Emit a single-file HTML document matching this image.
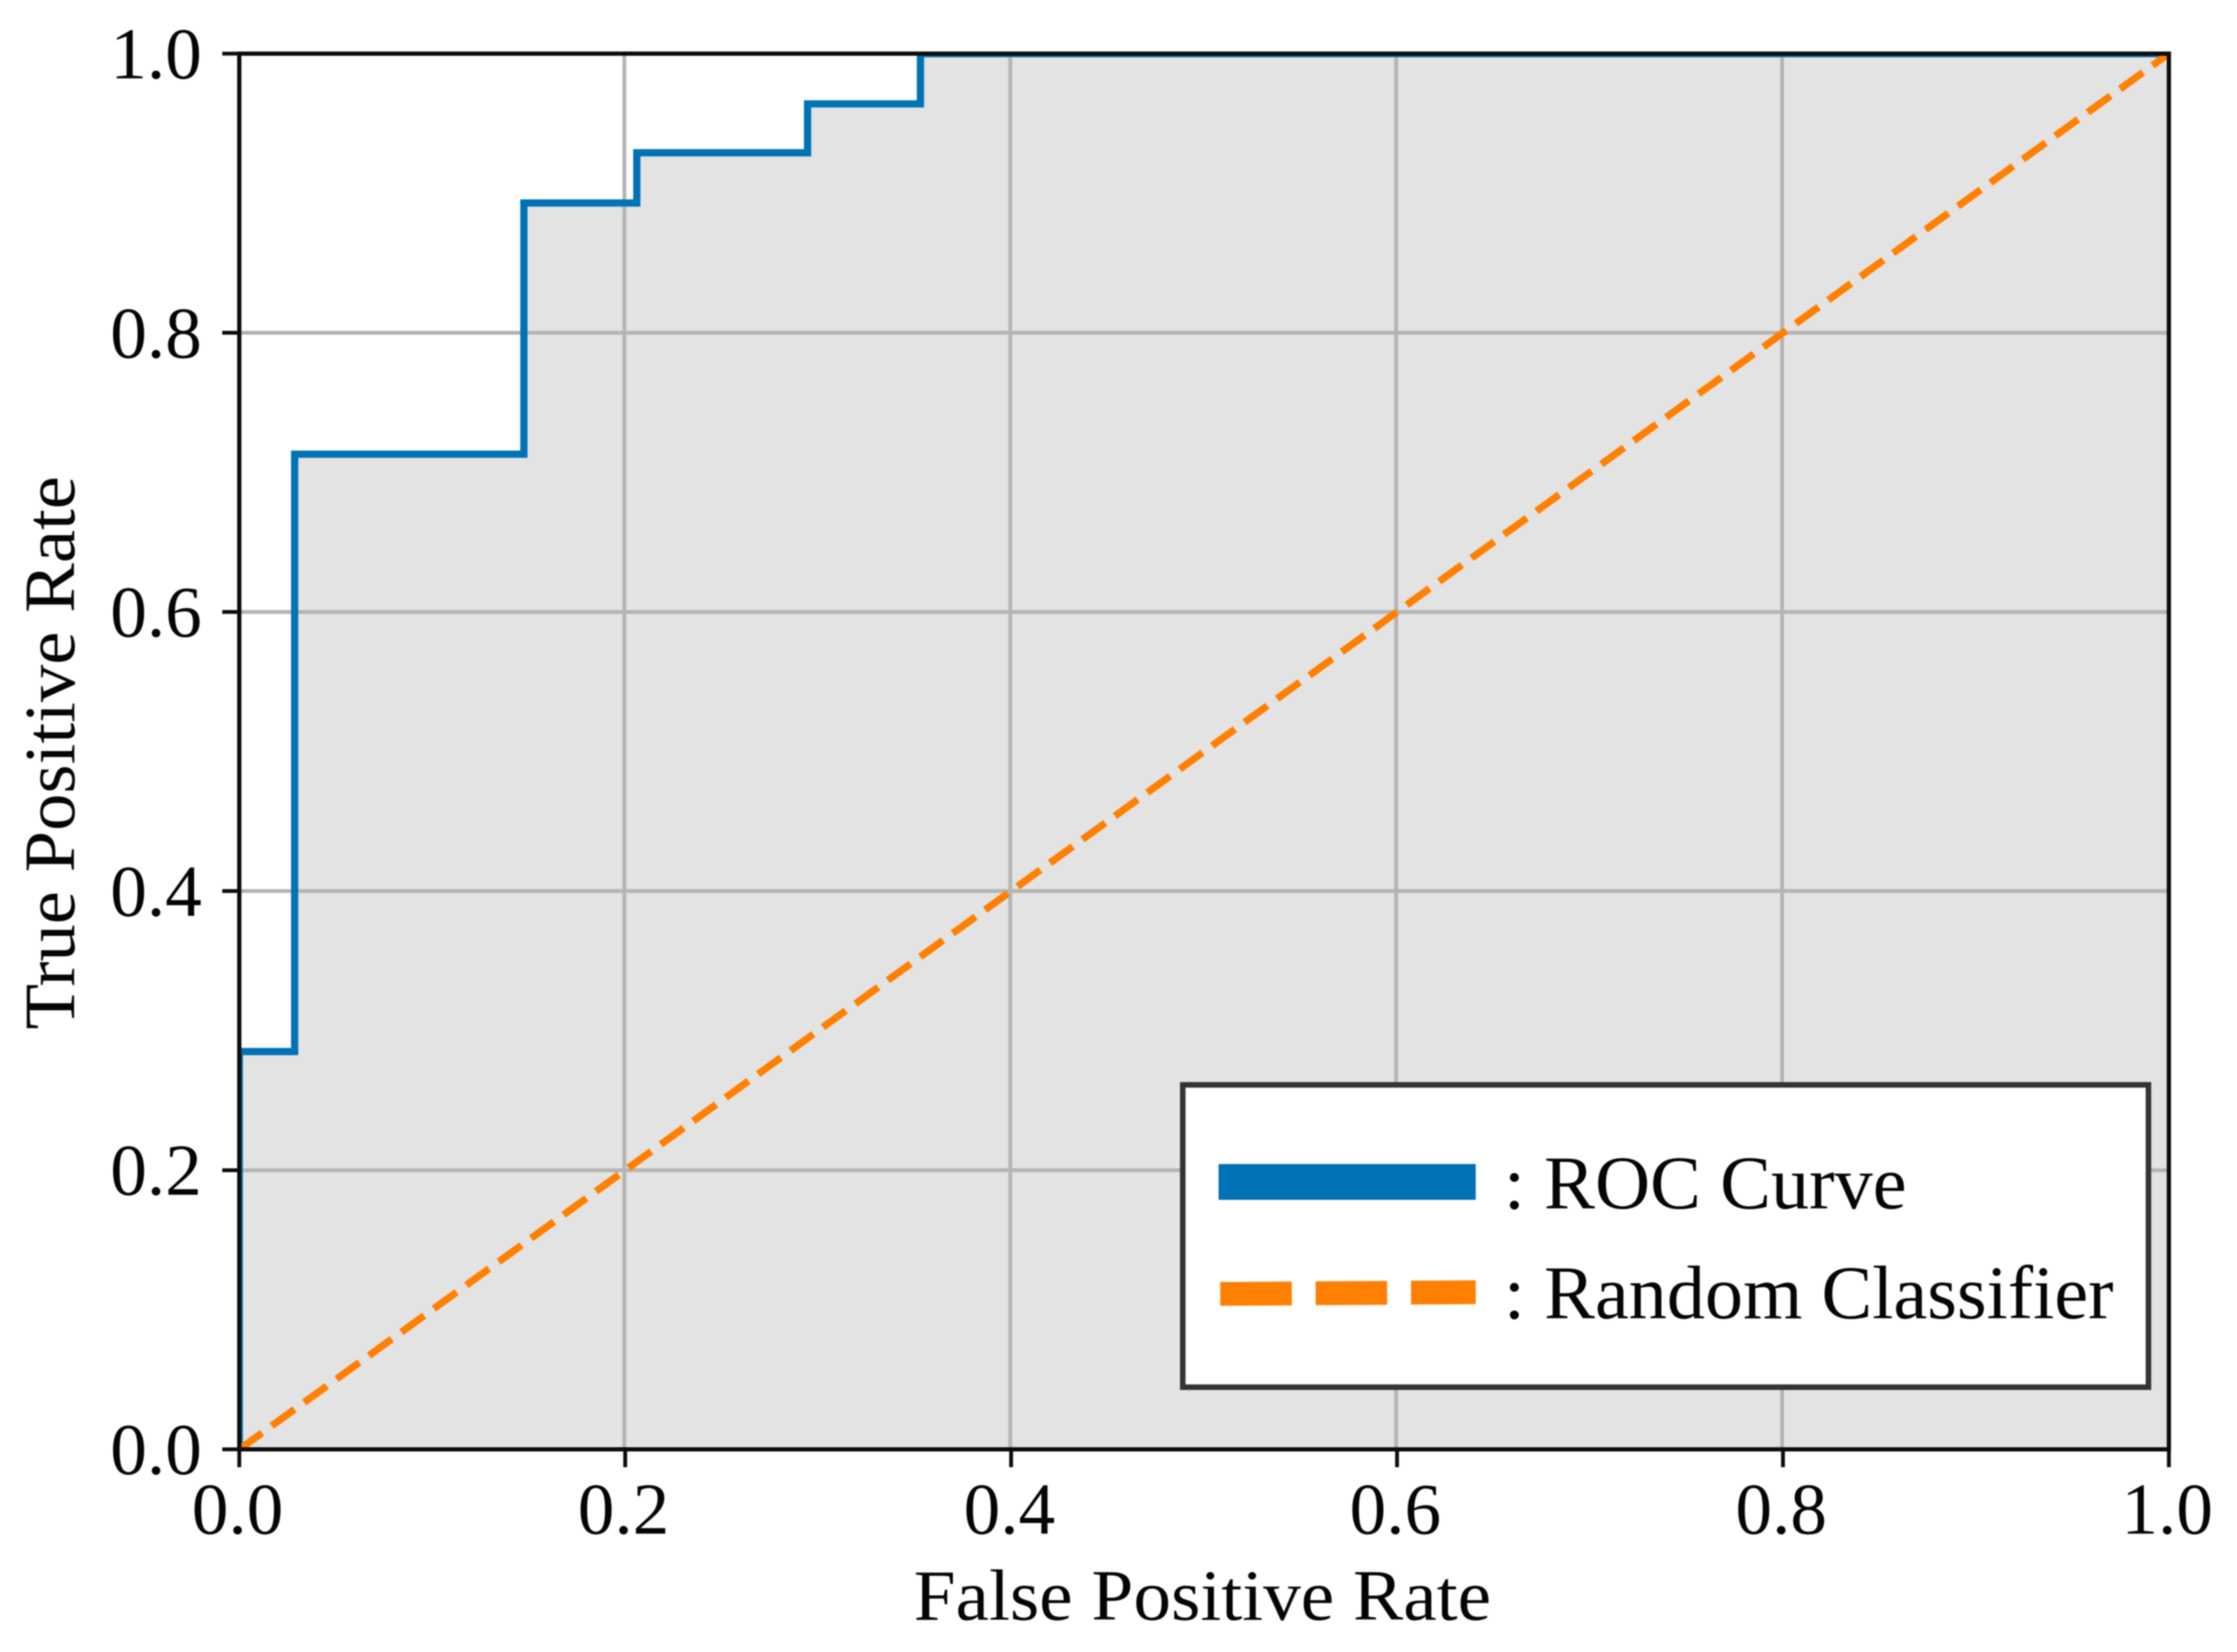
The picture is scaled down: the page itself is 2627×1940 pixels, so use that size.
<!DOCTYPE html>
<html lang="en">
<head>
<meta charset="utf-8">
<title>ROC Curve</title>
<style>
  html, body { margin: 0; padding: 0; background: #fff; }
  svg { display: block; font-family: "Liberation Serif", "Times New Roman", serif; filter: blur(0.8px); }
  text { fill: #050505; }
</style>
</head>
<body>
<svg id="chart" xmlns="http://www.w3.org/2000/svg" width="2627" height="1940" viewBox="0 0 2627 1940">
  <defs>
    <clipPath id="plot-clip"><rect x="281.5" y="63" width="2265.5" height="1639"></rect></clipPath>
  </defs>
</svg>
<script>
var rocFpr = [0, 0, 0.0287, 0.0287, 0.1475, 0.1475, 0.206, 0.206, 0.2945, 0.2945, 0.353, 0.353, 1];
var rocTpr = [0, 0.285, 0.285, 0.713, 0.713, 0.893, 0.893, 0.929, 0.929, 0.964, 0.964, 1, 1];
var randomFpr = [0, 1];
var randomTpr = [0, 1];
var xTickValues = [0, 0.2, 0.4, 0.6, 0.8, 1];
var yTickValues = [0, 0.2, 0.4, 0.6, 0.8, 1];
var xTickLabels = ['0.0', '0.2', '0.4', '0.6', '0.8', '1.0'];
var yTickLabels = ['0.0', '0.2', '0.4', '0.6', '0.8', '1.0'];
var xAxisTitle = 'False Positive Rate';
var yAxisTitle = 'True Positive Rate';
var legendLabels = [': ROC Curve', ': Random Classifier'];

var SVG_NS = 'http://www.w3.org/2000/svg';
var svg = document.getElementById('chart');
var plotLeft = 281, plotRight = 2547, plotTop = 63, plotBottom = 1702;

function xScale(v) { return plotLeft + v * (plotRight - plotLeft); }
function yScale(v) { return plotBottom - v * (plotBottom - plotTop); }
function make(tag, parent) {
  var el = document.createElementNS(SVG_NS, tag);
  (parent || svg).appendChild(el);
  return el;
}
function setAll(el, props) {
  for (var k in props) { el.setAttribute(k, props[k]); }
  return el;
}
function pathFrom(xs, ys) {
  var d = '';
  for (var i = 0; i < xs.length; i++) {
    d += (i ? 'L' : 'M') + xScale(xs[i]).toFixed(2) + ' ' + yScale(ys[i]).toFixed(2);
  }
  return d;
}

/* area under the ROC curve */
var area = make('path');


setAll(area, { d: pathFrom(rocFpr, rocTpr) + 'L' + xScale(1) + ' ' + yScale(0) + 'L' + xScale(0) + ' ' + yScale(0) + 'Z', fill: '#e3e3e3' });

/* grid */
xTickValues.forEach(function (v, i) {
  if (i === 0 || i === xTickValues.length - 1) { return; }
  var g = make('line');
  
  
  setAll(g, { x1: xScale(v) - 1, x2: xScale(v) - 1, y1: plotTop, y2: plotBottom, stroke: '#b4b4b4', 'stroke-width': 4.5 });
});
yTickValues.forEach(function (v, i) {
  if (i === 0 || i === yTickValues.length - 1) { return; }
  var g = make('line');
  
  
  setAll(g, { x1: plotLeft, x2: plotRight, y1: yScale(v), y2: yScale(v), stroke: '#b4b4b4', 'stroke-width': 4.5 });
});

/* series */
var roc = make('path');


setAll(roc, { d: pathFrom(rocFpr, rocTpr), fill: 'none', stroke: '#0072b5', 'stroke-width': 8.5, 'stroke-linejoin': 'miter', 'clip-path': 'url(#plot-clip)' });

var diag = make('path');


setAll(diag, { d: pathFrom(randomFpr, randomTpr), fill: 'none', stroke: '#ff8000', 'stroke-width': 8.5, 'stroke-dasharray': '33 14', 'clip-path': 'url(#plot-clip)' });

/* spines */
var spines = make('rect');


setAll(spines, { x: plotLeft, y: plotTop, width: plotRight - plotLeft, height: plotBottom - plotTop, fill: 'none', stroke: '#0c0c0c', 'stroke-width': 5 });

/* ticks and labels */
xTickValues.forEach(function (v, i) {
  var t = make('line');
  
  
  setAll(t, { x1: xScale(v), x2: xScale(v), y1: plotBottom, y2: plotBottom + 21, stroke: '#0c0c0c', 'stroke-width': 4.5 });
  var l = make('text');
  
  
  setAll(l, { x: xScale(v) - 2, y: plotBottom + 99, 'text-anchor': 'middle', 'font-size': 86 });
  l.textContent = xTickLabels[i];
});
yTickValues.forEach(function (v, i) {
  var t = make('line');
  
  
  setAll(t, { x1: plotLeft - 20, x2: plotLeft, y1: yScale(v), y2: yScale(v), stroke: '#0c0c0c', 'stroke-width': 4.5 });
  var l = make('text');
  
  
  setAll(l, { x: 237, y: yScale(v) + 29, 'text-anchor': 'end', 'font-size': 86 });
  l.textContent = yTickLabels[i];
});

/* axis titles */
var xTitle = make('text');


setAll(xTitle, { x: 1073, y: 1902, 'font-size': 85, textLength: 678, lengthAdjust: 'spacingAndGlyphs' });
xTitle.textContent = xAxisTitle;

var yTitle = make('text');


setAll(yTitle, { transform: 'translate(87 1209) rotate(-90)', x: 0, y: 0, 'font-size': 85, textLength: 650, lengthAdjust: 'spacingAndGlyphs' });
yTitle.textContent = yAxisTitle;

/* legend */
var legend = make('g');



var legendBox = make('rect', legend);


setAll(legendBox, { x: 1389, y: 1274, width: 1134, height: 355, fill: '#fff', stroke: '#333', 'stroke-width': 6.5 });

var legendRoc = make('rect', legend);


setAll(legendRoc, { x: 1431, y: 1367, width: 302, height: 42, fill: '#0072b5' });

var legendRandom = make('line', legend);


setAll(legendRandom, { x1: 1433, x2: 1733, y1: 1519.5, y2: 1517.5, stroke: '#ff8000', 'stroke-width': 28, 'stroke-dasharray': '84 28' });

var legendText1 = make('text', legend);


setAll(legendText1, { x: 1766, y: 1419, 'font-size': 89, textLength: 473, lengthAdjust: 'spacingAndGlyphs', 'xml:space': 'preserve' });
legendText1.textContent = legendLabels[0];

var legendText2 = make('text', legend);


setAll(legendText2, { x: 1766, y: 1548, 'font-size': 89, textLength: 716, lengthAdjust: 'spacingAndGlyphs', 'xml:space': 'preserve' });
legendText2.textContent = legendLabels[1];
</script>
</body>
</html>
